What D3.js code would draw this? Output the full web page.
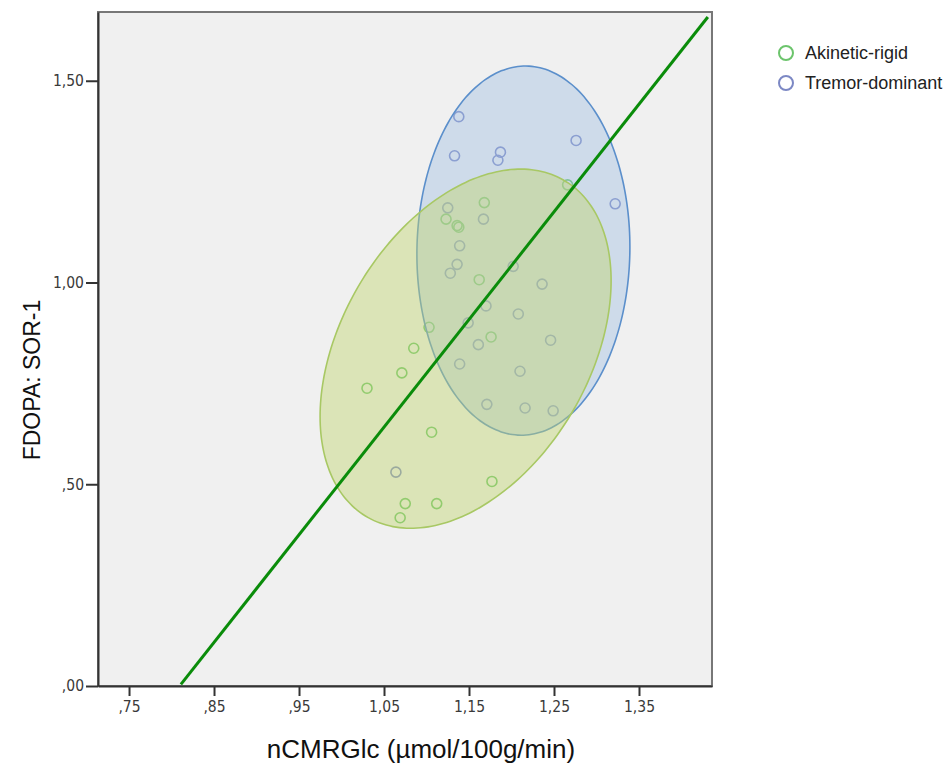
<!DOCTYPE html>
<html>
<head>
<meta charset='utf-8'>
<script src='https://d3js.org/d3.v7.min.js'></script>
<style>
    body {
        margin: 0;
        background: #fff;
        overflow: hidden;
    }

    .tick text {
        font-family: 'DejaVu Sans Condensed', 'DejaVu Sans', sans-serif;
        font-size: 15.5px;
        fill: #3a3a3a;
    }

    .title {
        font-family: 'Liberation Sans', Arial, sans-serif;
        fill: #111;
    }

    .legend text {
        font-family: 'Liberation Sans', Arial, sans-serif;
        font-size: 18px;
        fill: #222;
    }
</style>
</head>
<body>
<svg id='chart' width='947' height='766'></svg>
<script>
    // values
    const groups = ['Akinetic-rigid', 'Tremor-dominant'];
    const colors = ['#6cc46c', '#7c88c4'];

    const akineticX = [1.266, 1.168, 1.123, 1.136, 1.138, 1.162, 1.103, 1.176, 1.085, 1.071,
        1.030, 1.106, 1.177, 1.075, 1.112, 1.069];
    const akineticY = [1.242, 1.198, 1.157, 1.141, 1.137, 1.007, 0.889, 0.865, 0.837, 0.776,
        0.738, 0.629, 0.507, 0.452, 0.452, 0.417];

    const tremorX = [1.138, 1.133, 1.187, 1.184, 1.276, 1.322, 1.125, 1.167, 1.139, 1.136,
        1.128, 1.202, 1.236, 1.170, 1.149, 1.208, 1.161, 1.246, 1.139, 1.210,
        1.171, 1.216, 1.249, 1.064];
    const tremorY = [1.411, 1.314, 1.323, 1.303, 1.352, 1.195, 1.185, 1.157, 1.091, 1.045,
        1.023, 1.040, 0.996, 0.942, 0.900, 0.922, 0.846, 0.857, 0.798, 0.780,
        0.698, 0.689, 0.682, 0.530];

    // ellipse: centre, half width, half height (data units) and correlation
    const ellCx = [1.146, 1.214];
    const ellCy = [0.836, 1.079];
    const ellW = [0.1712, 0.1253];
    const ellH = [0.4451, 0.4575];
    const ellR = [0.378, 0.02];

    // fit line end points
    const lineX = [0.811, 1.431];
    const lineY = [0.004, 1.658];

    const xTicks = [0.75, 0.85, 0.95, 1.05, 1.15, 1.25, 1.35];
    const yTicks = [0, 0.5, 1.0, 1.5];

    const plotLeft = 98,
        plotRight = 712,
        plotTop = 12,
        plotBottom = 686;

    const svg = d3.select('#chart');

    const x = d3.scaleLinear()
        .domain([0.7135, 1.4359])
        .range([plotLeft, plotRight]);

    const y = d3.scaleLinear()
        .domain([0, 1.6704])
        .range([plotBottom, plotTop]);

    function fmt(d) {
        return d3.format('.2f')(d).replace('.', ',').replace(/^0/, '');
    }

    svg.append('rect')
        .attr('x', plotLeft)
        .attr('y', plotTop)
        .attr('width', plotRight - plotLeft)
        .attr('height', plotBottom - plotTop)
        .attr('fill', '#f0f0f0');

    // points first, ellipses are laid over them
    const pts = [
        d3.zip(akineticX, akineticY),
        d3.zip(tremorX, tremorY)
    ];

    [1, 0].forEach(function(g) {
        svg.append('g')
            .selectAll('circle')
            .data(pts[g])
            .join('circle')
            .attr('cx', d => x(d[0]))
            .attr('cy', d => y(d[1]))
            .attr('r', 5)
            .attr('fill', 'none')
            .attr('stroke', colors[g])
            .attr('stroke-width', 1.6);
    });

    function ellipsePath(g) {
        const s = Math.sqrt(1 - ellR[g] * ellR[g]);
        const p = d3.range(0, 360, 3).map(function(a) {
            const t = a * Math.PI / 180;
            return [
                x(ellCx[g] + ellW[g] * Math.cos(t)),
                y(ellCy[g] + ellH[g] * (ellR[g] * Math.cos(t) + s * Math.sin(t)))
            ];
        });
        return d3.line().curve(d3.curveCardinalClosed)(p);
    }

    // tremor ellipse
    svg.append('path')
        .attr('d', ellipsePath(1))
        .attr('fill', 'rgb(160,190,226)')
        .attr('fill-opacity', 0.42)
        .attr('stroke', '#5b8fcb')
        .attr('stroke-width', 1.6);

    // akinetic ellipse
    svg.append('path')
        .attr('d', ellipsePath(0))
        .attr('fill', 'rgb(192,212,112)')
        .attr('fill-opacity', 0.45)
        .attr('stroke', '#a8c864')
        .attr('stroke-width', 1.6);

    svg.append('path')
        .datum(d3.zip(lineX, lineY))
        .attr('fill', 'none')
        .attr('stroke', '#0a8c0a')
        .attr('stroke-width', 3)
        .attr('d', d3.line().x(d => x(d[0])).y(d => y(d[1])));

    // frame
    svg.append('rect')
        .attr('x', plotLeft)
        .attr('y', plotTop)
        .attr('width', plotRight - plotLeft)
        .attr('height', plotBottom - plotTop)
        .attr('fill', 'none')
        .attr('stroke', '#777')
        .attr('stroke-width', 2);

    const xaxis = svg.append('g')
        .attr('transform', 'translate(0,' + plotBottom + ')')
        .call(d3.axisBottom(x).tickValues(xTicks).tickFormat(fmt)
            .tickSizeInner(10).tickSizeOuter(0).tickPadding(5));

    const yaxis = svg.append('g')
        .attr('transform', 'translate(' + plotLeft + ',0)')
        .call(d3.axisLeft(y).tickValues(yTicks).tickFormat(fmt)
            .tickSizeInner(12).tickSizeOuter(0).tickPadding(2));

    [xaxis, yaxis].forEach(function(a) {
        a.select('.domain').attr('stroke', '#333').attr('stroke-width', 2);
        a.selectAll('.tick line').attr('stroke', '#333').attr('stroke-width', 2);
    });

    svg.append('text')
        .attr('class', 'title')
        .attr('x', 421)
        .attr('y', 758)
        .attr('text-anchor', 'middle')
        .style('font-size', '26px')
        .text('nCMRGlc (µmol/100g/min)');

    svg.append('text')
        .attr('class', 'title')
        .attr('transform', 'translate(40,380)rotate(-90)')
        .attr('text-anchor', 'middle')
        .style('font-size', '23px')
        .text('FDOPA: SOR-1');

    const legend = svg.append('g').attr('class', 'legend');
    groups.forEach(function(name, i) {
        legend.append('circle')
            .attr('cx', 786)
            .attr('cy', 53 + i * 30)
            .attr('r', 7)
            .attr('fill', 'none')
            .attr('stroke', colors[i])
            .attr('stroke-width', 2);
        legend.append('text')
            .attr('x', 805)
            .attr('y', 59 + i * 30)
            .text(name);
    });
</script>
</body>
</html>
